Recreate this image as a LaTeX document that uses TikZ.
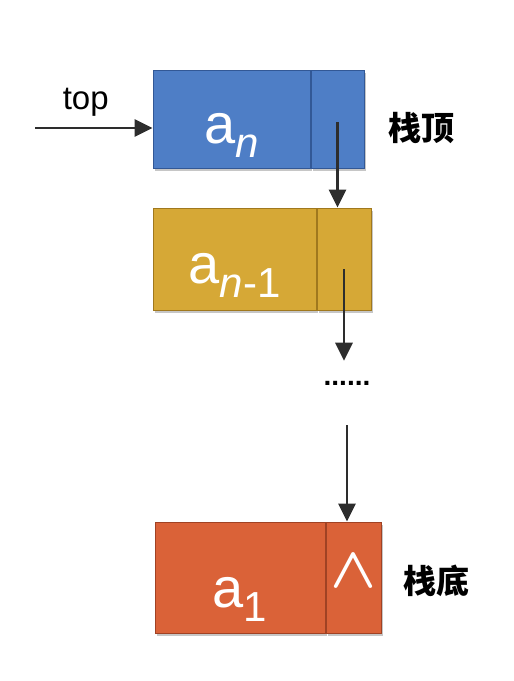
\documentclass[tikz,border=0pt]{standalone}
\usepackage{fontspec}
\setmainfont{Liberation Sans}
\newfontfamily\cjk{Noto Sans CJK SC}
\usetikzlibrary{arrows.meta,positioning,shadows}

\definecolor{topblue}{RGB}{78,126,198}
\definecolor{topblueline}{RGB}{50,88,150}
\definecolor{midyellow}{RGB}{214,168,54}
\definecolor{midyellowline}{RGB}{160,120,30}
\definecolor{botorange}{RGB}{218,98,56}
\definecolor{botorangeline}{RGB}{160,66,36}
\definecolor{arrowgray}{RGB}{45,45,45}

% element name with a lowered index
\newcommand{\elem}[1]{a\raisebox{-14pt}{\fontsize{42}{42}\selectfont #1}}

\begin{document}
\begin{tikzpicture}[x=1pt, y=-1pt,
  field/.style={rectangle, inner sep=0pt, line width=1pt, text=white,
    drop shadow={shadow xshift=2pt, shadow yshift=-3pt, opacity=0.45}},
  datatext/.style={font=\fontsize{56}{56}\selectfont, text height=50pt, text depth=2pt},
  side/.style={font=\cjk\bfseries\fontsize{33}{33}\selectfont},
  arr/.style={-{Triangle[length=18pt,width=17pt]}, line width=2.8pt, draw=arrowgray}]
  \useasboundingbox (0,0) rectangle (514,681);
  % top node a_n
  \node[field, datatext, fill=topblue, draw=topblueline, minimum width=157, minimum height=98]
    (d1) at (231.5,119) {\elem{\textit{n}}};
  \node[field, fill=topblue, draw=topblueline, minimum width=53, minimum height=98,
    right=0pt of d1] (l1) {};
  % next node a_{n-1}
  \node[field, datatext, fill=midyellow, draw=midyellowline, minimum width=163, minimum height=102]
    (d2) at (234.5,259) {\elem{\textit{n}-1}};
  \node[field, fill=midyellow, draw=midyellowline, minimum width=54, minimum height=102,
    right=0pt of d2] (l2) {};
  % bottom node a_1
  \node[field, datatext, text height=62pt, fill=botorange, draw=botorangeline,
    minimum width=170, minimum height=111] (d3) at (240,577.5) {\elem{1}};
  \node[field, fill=botorange, draw=botorangeline, minimum width=55, minimum height=111,
    right=0pt of d3, text height=24pt, text depth=5pt] (l3) {\scalebox{6}[5.8]{\boldmath$\wedge$}};
  % dots between
  \node[font=\fontsize{28}{28}\selectfont\bfseries, inner sep=0pt] (dots) at (347,383) {......};
  % labels
  \node[side, right=20pt of l1, yshift=-9pt] (stacktop) {栈顶};
  \node[side, right=18pt of l3, yshift=-3pt] (stackbot) {栈底};
  % top pointer
  \coordinate (topin) at (35,128);
  \draw[arr] (topin) -- (d1.west |- topin)
    node[midway, above=7pt, xshift=-8pt, font=\fontsize{33}{33}\selectfont] (toplbl) {top};
  % links
  \draw[arr] ([yshift=-3pt]l1.center) -- (l1.center |- d2.north);
  \draw[arr] ([yshift=-10pt]l2.center) -- (l2.center |- dots.north) [shorten >=20pt];
  \draw[arr, shorten <=40pt] (dots.south) -- (dots.south |- d3.north);
\end{tikzpicture}
\end{document}
